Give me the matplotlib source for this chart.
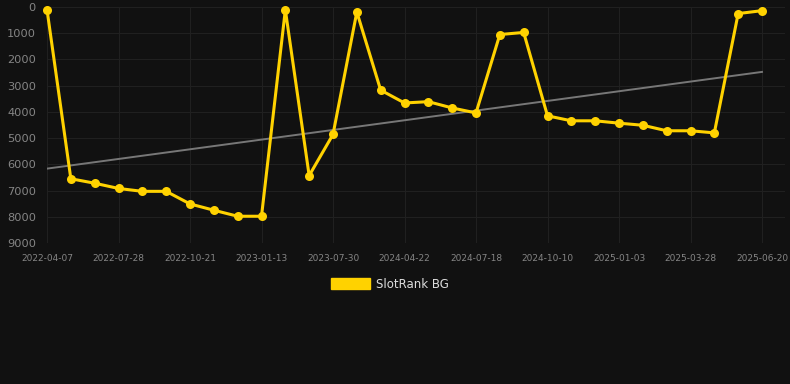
import numpy as np
import matplotlib
matplotlib.use("Agg")
import matplotlib.pyplot as plt
from matplotlib.patches import Patch

# data (rank, lower is better)
dates = ["2022-04-07", "", "", "2022-07-28", "", "", "2022-10-21", "", "",
         "2023-01-13", "", "", "2023-07-30", "", "", "2024-04-22", "", "",
         "2024-07-18", "", "", "2024-10-10", "", "", "2025-01-03", "", "",
         "2025-03-28", "", "", "2025-06-20"]
ranks = [100, 6550, 6720, 6920, 7030, 7030, 7510, 7750, 7980, 7980,
         110, 6430, 4860, 190, 3170, 3660, 3610, 3850, 4040, 1050,
         970, 4150, 4340, 4340, 4430, 4510, 4720, 4720, 4800, 250, 140]
series_name = "SlotRank BG"

bg = "#111111"
gold = "#FFD200"

fig = plt.figure(figsize=(7.9, 3.84), dpi=100, facecolor=bg)
W, H = 790, 384
ax = fig.add_axes([47 / W, (H - 243) / H, (785 - 47) / W, (243 - 7) / H])
ax.set_facecolor(bg)

x = np.arange(len(ranks))

# trend line (least squares)
k, b = np.polyfit(x, ranks, 1)
ax.plot(x, k * x + b, color="#777777", lw=1.4, zorder=2)

ax.plot(x, ranks, color=gold, lw=2.2, marker="o", markersize=6.5,
        markeredgewidth=0, zorder=3, clip_on=False)

ax.set_xlim(0, 30 * (785 - 47) / (762 - 47))
ax.set_ylim(9000, 0)
ax.set_yticks(np.arange(0, 9001, 1000))
ax.set_yticklabels([str(v) for v in range(0, 9001, 1000)])
tick_idx = [i for i, d in enumerate(dates) if d]
ax.set_xticks(tick_idx)
ax.set_xticklabels([dates[i] for i in tick_idx])

ax.tick_params(axis="y", colors="#858585", labelsize=8.2, length=0, pad=8)
ax.tick_params(axis="x", colors="#858585", labelsize=6.5, length=0, pad=8)
ax.grid(True, color="#202020", lw=0.8)
ax.set_axisbelow(True)
for s in ax.spines.values():
    s.set_visible(False)

handle = Patch(facecolor=gold, edgecolor=gold)
fig.legend([handle], [series_name], loc="center", bbox_to_anchor=(390 / W, (H - 284) / H),
           frameon=False, handlelength=3.3, handleheight=1.0, handletextpad=0.5,
           labelcolor="#dddddd", fontsize=8.5)

fig.savefig("out.png", dpi=100, facecolor=bg)
